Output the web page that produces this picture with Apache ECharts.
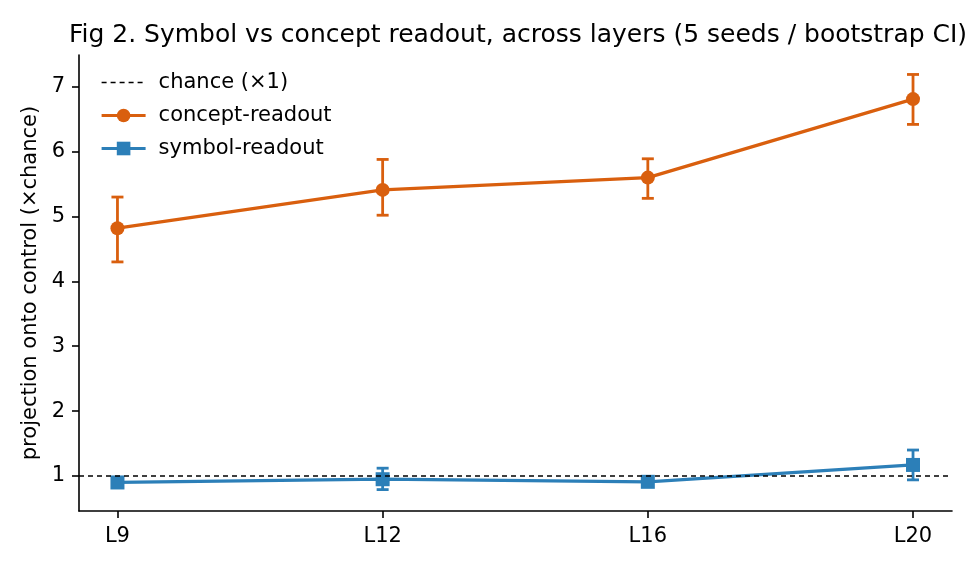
<!DOCTYPE html>
<html>
<head>
<meta charset="UTF-8">
<title>Fig 2</title>
<script src="https://cdn.jsdelivr.net/npm/echarts@6/dist/echarts.min.js"></script>
<style>
  html, body { margin: 0; padding: 0; background: #fff; }
  #container { width: 975px; height: 570px; }
</style>
</head>
<body>
<div id="container"></div>
<script type="text/javascript">
// layers on the x axis
var layers = ['L9', 'L12', 'L16', 'L20'];
var yTicks = [1, 2, 3, 4, 5, 6, 7];

// concept-readout, mean and bootstrap CI
var conceptMean = [4.82, 5.41, 5.60, 6.81];
var conceptLo = [4.30, 5.02, 5.28, 6.42];
var conceptHi = [5.30, 5.88, 5.89, 7.19];

// symbol-readout, mean and bootstrap CI
var symbolMean = [0.90, 0.95, 0.91, 1.17];
var symbolLo = [0.88, 0.79, 0.88, 0.94];
var symbolHi = [0.93, 1.12, 0.94, 1.40];

var chance = 1;

var orange = '#d95f0e';
var blue = '#2c7fb8';
var font = 'DejaVu Sans';

function pts(mean) {
	return mean.map(function (v, i) { return [i, v]; });
}
function bars(lo, hi) {
	return lo.map(function (v, i) { return [i, v, hi[i]]; });
}

// vertical error bar with caps
function errorItem(color) {
	return function (params, api) {
		var top = api.coord([api.value(0), api.value(2)]);
		var bot = api.coord([api.value(0), api.value(1)]);
		var cap = 6;
		var st = { stroke: color, lineWidth: 2.8 };
		return {
			type: 'group',
			children: [
				{ type: 'line', shape: { x1: top[0], y1: top[1], x2: bot[0], y2: bot[1] }, style: st },
				{ type: 'line', shape: { x1: top[0] - cap, y1: top[1], x2: top[0] + cap, y2: top[1] }, style: st },
				{ type: 'line', shape: { x1: bot[0] - cap, y1: bot[1], x2: bot[0] + cap, y2: bot[1] }, style: st }
			]
		};
	};
}

var dom = document.getElementById('container');
var myChart = echarts.init(dom);

var option = {
	animation: false,
	textStyle: { fontFamily: font },
	title: {
		text: 'Fig 2. Symbol vs concept readout, across layers (5 seeds / bootstrap CI)',
		left: 513,
		textAlign: 'center',
		top: 18,
		textStyle: { fontFamily: font, fontSize: 25, fontWeight: 'normal', color: '#000' }
	},
	legend: {
		orient: 'vertical',
		left: 95,
		top: 67,
		itemWidth: 44,
		itemHeight: 17,
		itemGap: 12,
		data: [
			{ name: 'chance (×1)', itemStyle: { opacity: 0 }, lineStyle: { width: 1.6, type: [5, 4], color: '#000' } },
			{ name: 'concept-readout', lineStyle: { width: 3.2, color: orange } },
			{ name: 'symbol-readout', lineStyle: { width: 3.2, color: blue } }
		],
		textStyle: { fontFamily: font, fontSize: 21, color: '#000', padding: [0, 0, 0, 8] }
	},
	grid: { left: 79, right: 23, top: 55, bottom: 59, containLabel: false },
	xAxis: {
		type: 'value',
		min: -0.145,
		max: 3.147,
		splitLine: { show: false },
		axisLine: { onZero: false, lineStyle: { color: '#000', width: 1.6 } },
		axisTick: { customValues: [0, 1, 2, 3], length: 7, lineStyle: { color: '#000', width: 1.6 } },
		axisLabel: {
			customValues: [0, 1, 2, 3],
			margin: 15,
			fontFamily: font,
			fontSize: 21,
			color: '#000',
			formatter: function (v) { return layers[Math.round(v)]; }
		}
	},
	yAxis: {
		type: 'value',
		min: 0.46,
		max: 7.49,
		name: 'projection onto control (×chance)',
		nameLocation: 'middle',
		nameRotate: 90,
		nameGap: 34,
		nameTextStyle: { fontFamily: font, fontSize: 21, color: '#000' },
		splitLine: { show: false },
		axisLine: { show: true, onZero: false, lineStyle: { color: '#000', width: 1.6 } },
		axisTick: { show: true, customValues: yTicks, length: 7, lineStyle: { color: '#000', width: 1.6 } },
		axisLabel: {
			customValues: yTicks,
			margin: 14,
			fontFamily: font,
			fontSize: 21,
			color: '#000'
		}
	},
	series: [
		{
			name: 'chance (×1)',
			type: 'line',
			data: [],
			symbol: 'none',
			itemStyle: { color: '#000' },
			lineStyle: { color: '#000', width: 1.6, type: [5, 4] },
			markLine: {
				silent: true,
				symbol: 'none',
				label: { show: false },
				lineStyle: { color: '#000', width: 1.6, type: [5, 4] },
				data: [{ yAxis: chance }]
			}
		},
		{
			name: 'concept-readout',
			type: 'line',
			data: pts(conceptMean),
			symbol: 'circle',
			symbolSize: 14,
			z: 3,
			itemStyle: { color: orange },
			lineStyle: { color: orange, width: 3.2 }
		},
		{
			name: 'symbol-readout',
			type: 'line',
			data: pts(symbolMean),
			symbol: 'rect',
			symbolSize: 14,
			z: 3,
			itemStyle: { color: blue },
			lineStyle: { color: blue, width: 3.2 }
		},
		{
			name: 'concept-ci',
			type: 'custom',
			renderItem: errorItem(orange),
			data: bars(conceptLo, conceptHi),
			z: 2,
			encode: { x: 0, y: [1, 2] }
		},
		{
			name: 'symbol-ci',
			type: 'custom',
			renderItem: errorItem(blue),
			data: bars(symbolLo, symbolHi),
			z: 2,
			encode: { x: 0, y: [1, 2] }
		}
	]
};

if (option && typeof option === "object") {
	myChart.setOption(option, true);
}
</script>
</body>
</html>
